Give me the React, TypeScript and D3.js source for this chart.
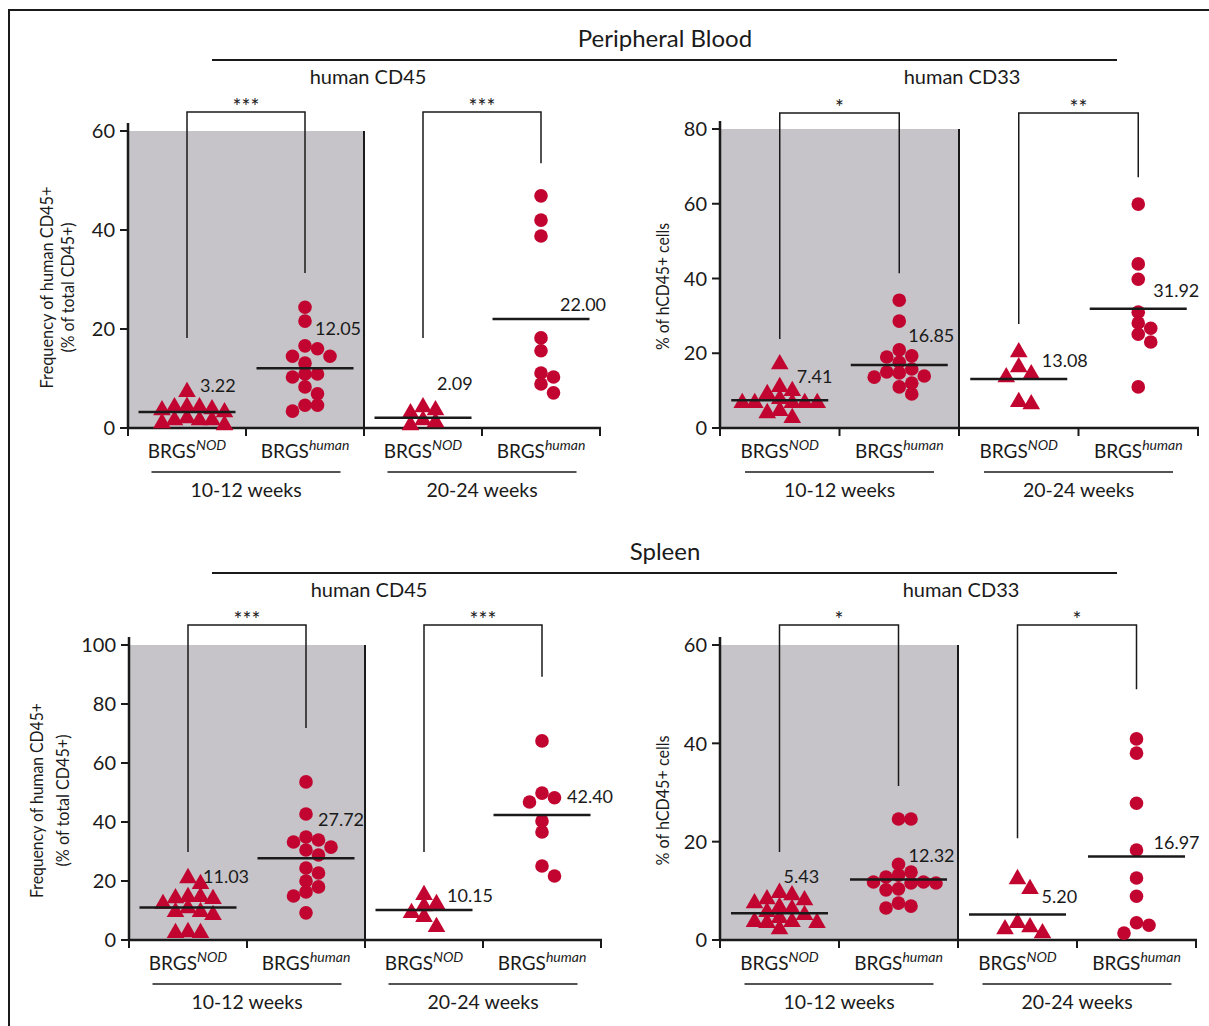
import React from "react";
import * as d3 from "d3";

// groups along each x axis: strain x age
const strains = ["NOD", "human"];
const ages = ["10-12 weeks", "20-24 weeks"];
const groupKeys = ["NOD 10-12", "human 10-12", "NOD 20-24", "human 20-24"];

// Peripheral blood, human CD45 (% of total CD45+)
const pbCD45Ticks = [0, 20, 40, 60];
const pbCD45 = [
  [7.3, 4.3, 4.2, 4.2, 3.8, 3.6, 3.2, 2.0, 1.6, 1.6, 1.6, 1.0, 0.6],
  [24.4, 21.6, 16.6, 16.0, 14.5, 14.5, 13.1, 10.9, 10.9, 10.3, 8.3, 6.9, 4.6, 4.6, 3.4],
  [4.2, 3.6, 3.0, 1.6, 1.2, 0.6],
  [46.9, 42.0, 38.8, 18.2, 15.6, 11.1, 10.3, 8.9, 7.1],
];
const pbCD45Means = [3.22, 12.05, 2.09, 22.0];
const pbCD45Stars = ["***", "***"];
const pbCD45Legs = [[18.2, 31.3], [18.2, 53.5]];

// Peripheral blood, human CD33 (% of hCD45+ cells)
const pbCD33Ticks = [0, 20, 40, 60, 80];
const pbCD33 = [
  [17.1, 11.0, 9.9, 9.1, 7.8, 6.7, 6.7, 6.7, 6.7, 6.7, 4.6, 4.0, 2.7],
  [34.2, 28.6, 20.9, 19.3, 19.0, 17.6, 15.8, 15.0, 14.7, 13.9, 13.6, 12.0, 11.0, 9.1],
  [20.3, 16.3, 14.4, 13.6, 7.0, 6.4],
  [59.9, 43.9, 39.8, 31.0, 28.1, 26.7, 25.1, 23.0, 11.0],
];
const pbCD33Means = [7.41, 16.85, 13.08, 31.92];
const pbCD33Stars = ["*", "**"];
const pbCD33Legs = [[23.8, 41.4], [27.8, 67.1]];

// Spleen, human CD45
const spCD45Ticks = [0, 20, 40, 60, 80, 100];
const spCD45 = [
  [21.0, 19.0, 14.6, 14.6, 14.2, 13.9, 12.2, 10.8, 9.5, 9.5, 8.5, 2.7, 2.4, 2.4],
  [53.6, 42.7, 34.9, 33.9, 33.2, 31.5, 30.5, 28.8, 24.4, 22.7, 20.0, 18.0, 16.3, 14.9, 9.2],
  [15.3, 12.2, 11.5, 9.2, 7.8, 4.4],
  [67.5, 49.8, 48.2, 46.8, 40.3, 36.6, 25.1, 21.7],
];
const spCD45Means = [11.03, 27.72, 10.15, 42.4];
const spCD45Stars = ["***", "***"];
const spCD45Legs = [[29.8, 71.9], [29.8, 89.2]];

// Spleen, human CD33
const spCD33Ticks = [0, 20, 40, 60];
const spCD33 = [
  [9.6, 9.1, 8.3, 8.1, 7.5, 6.7, 6.3, 5.7, 5.1, 4.5, 3.7, 3.7, 3.5, 3.5, 2.2],
  [24.6, 24.6, 15.4, 13.8, 13.2, 12.8, 11.8, 11.8, 11.6, 11.6, 10.4, 10.2, 7.5, 6.9, 6.5],
  [12.4, 10.4, 3.5, 2.6, 2.2, 1.4],
  [40.9, 38.0, 27.8, 18.3, 12.6, 8.9, 3.5, 3.0, 1.4],
];
const spCD33Means = [5.43, 12.32, 5.2, 16.97];
const spCD33Stars = ["*", "*"];
const spCD33Legs = [[17.9, 31.3], [20.7, 51.0]];

const RED = "#c10530";
const GRAY = "#c6c4c8";
const INK = "#1a1a1a";
const FONT = "Lato, 'Open Sans', sans-serif";

const panels = [
  {
    axisX: 128, y0: 428, yTop: 131, band: 118, ticks: pbCD45Ticks, data: pbCD45,
    means: pbCD45Means, stars: pbCD45Stars, legs: pbCD45Legs, bracketY: 112,
    title: ["Frequency of human CD45+", "(% of total CD45+)"], titleX: [47, 68], titleLen: [202, 130],
    labelOff: [[13, -20], [10, -33], [14, -28], [19, -8]],
  },
  {
    axisX: 720, y0: 428, yTop: 129, band: 119.5, ticks: pbCD33Ticks, data: pbCD33,
    means: pbCD33Means, stars: pbCD33Stars, legs: pbCD33Legs, bracketY: 113,
    title: ["% of hCD45+ cells"], titleX: [663], titleLen: [127],
    labelOff: [[17, -17], [9, -23], [23, -12], [15, -12]],
  },
  {
    axisX: 129, y0: 940, yTop: 645, band: 118, ticks: spCD45Ticks, data: spCD45,
    means: spCD45Means, stars: spCD45Stars, legs: spCD45Legs, bracketY: 625,
    title: ["Frequency of human CD45+", "(% of total CD45+)"], titleX: [37, 63], titleLen: [195, 132],
    labelOff: [[15, -24], [12, -32], [23, -8], [25, -12]],
  },
  {
    axisX: 720, y0: 940, yTop: 645, band: 119, ticks: spCD33Ticks, data: spCD33,
    means: spCD33Means, stars: spCD33Stars, legs: spCD33Legs, bracketY: 625,
    title: ["% of hCD45+ cells"], titleX: [663], titleLen: [130],
    labelOff: [[4, -30], [10, -17], [24, -11], [17, -8]],
  },
];

// grid beeswarm: each point takes the nearest free column to the group centre
function swarm(ys: number[], step: number, minD: number) {
  const placed: { x: number; y: number }[] = [];
  ys.forEach((y) => {
    for (let k = 0; k < 20; k++) {
      const cands = k === 0 ? [0] : [k * step, -k * step];
      const free = cands.find((c) =>
        placed.every((p) => Math.abs(p.x - c) > 0.1 || Math.abs(p.y - y) >= minD)
      );
      if (free !== undefined) {
        placed.push({ x: free, y });
        return;
      }
    }
  });
  return placed;
}

const triangle = d3.symbol().type(d3.symbolTriangle).size(135)();

function Panel({ cfg }: { cfg: any }) {
  const x = d3.scaleBand().domain(groupKeys).range([cfg.axisX, cfg.axisX + 4 * cfg.band]);
  const y = d3.scaleLinear().domain([0, d3.max(cfg.ticks as number[])!]).range([cfg.y0, cfg.yTop]);
  const cx = (i: number) => (x(groupKeys[i]) as number) + x.bandwidth() / 2;
  const right = cfg.axisX + 4 * cfg.band;
  const mid = cfg.axisX + 2 * cfg.band;
  const titleY = (cfg.y0 + cfg.yTop) / 2 + 8;

  return (
    <g>
      <rect x={cfg.axisX} y={y(d3.max(cfg.ticks as number[])!)} width={mid - cfg.axisX} height={cfg.y0 - cfg.yTop} fill={GRAY} />
      <line x1={mid} x2={mid} y1={cfg.yTop} y2={cfg.y0} stroke={INK} strokeWidth={2} />

      {/* y axis */}
      <line x1={cfg.axisX} x2={cfg.axisX} y1={cfg.yTop - 8} y2={cfg.y0 + 1} stroke={INK} strokeWidth={2.5} />
      {cfg.ticks.map((t: number) => (
        <g key={t}>
          <line x1={cfg.axisX - 8} x2={cfg.axisX} y1={y(t)} y2={y(t)} stroke={INK} strokeWidth={2} />
          <text x={cfg.axisX - 13} y={y(t)} dy="0.36em" textAnchor="end" fontSize={20} fill={INK}>{t}</text>
        </g>
      ))}
      {cfg.title.map((s: string, i: number) => (
        <text key={s} transform={`translate(${cfg.titleX[i]},${titleY}) rotate(-90)`} dy="0.35em"
          textAnchor="middle" fontSize={18} fill={INK} textLength={cfg.titleLen[i]} lengthAdjust="spacingAndGlyphs">{s}</text>
      ))}

      {/* x axis */}
      <line x1={cfg.axisX - 1} x2={right + 1} y1={cfg.y0} y2={cfg.y0} stroke={INK} strokeWidth={2.5} />
      {d3.range(5).map((i) => (
        <line key={i} x1={cfg.axisX + i * cfg.band} x2={cfg.axisX + i * cfg.band} y1={cfg.y0} y2={cfg.y0 + 8} stroke={INK} strokeWidth={2} />
      ))}
      {groupKeys.map((g, i) => (
        <text key={g} x={cx(i)} y={cfg.y0 + 30} textAnchor="middle" fontSize={19} fill={INK}>
          BRGS<tspan dy={-8} fontSize={14} fontStyle="italic">{strains[i % 2]}</tspan>
        </text>
      ))}
      {ages.map((a, j) => {
        const c = cfg.axisX + cfg.band * (2 * j + 1);
        return (
          <g key={a}>
            <line x1={c - 94.5} x2={c + 94.5} y1={cfg.y0 + 44} y2={cfg.y0 + 44} stroke={INK} strokeWidth={1.5} />
            <text x={c} y={cfg.y0 + 69} textAnchor="middle" fontSize={19.5} fill={INK}>{a}</text>
          </g>
        );
      })}

      {/* significance brackets */}
      {cfg.stars.map((s: string, j: number) => {
        const a = cx(2 * j), b = cx(2 * j + 1);
        return (
          <g key={j}>
            <path d={`M${a},${y(cfg.legs[j][0])}V${cfg.bracketY}H${b}V${y(cfg.legs[j][1])}`} fill="none" stroke={INK} strokeWidth={1.5} />
            <text x={(a + b) / 2} y={cfg.bracketY + 2} textAnchor="middle" fontSize={21} fill={INK}>{s}</text>
          </g>
        );
      })}

      {/* points */}
      {cfg.data.map((vals: number[], i: number) => {
        const pts = swarm(vals.map((v) => y(v)), 12.5, 10.5);
        return pts.map((p, k) =>
          i % 2 === 0 ? (
            <path key={`${i}-${k}`} d={triangle} transform={`translate(${cx(i) + p.x},${p.y})`} fill={RED} />
          ) : (
            <circle key={`${i}-${k}`} cx={cx(i) + p.x} cy={p.y} r={6.8} fill={RED} />
          )
        );
      })}

      {/* means */}
      {cfg.means.map((m: number, i: number) => (
        <g key={i}>
          <line x1={cx(i) - 48.5} x2={cx(i) + 48.5} y1={y(m)} y2={y(m)} stroke={INK} strokeWidth={2.5} />
          <text x={cx(i) + cfg.labelOff[i][0]} y={y(m) + cfg.labelOff[i][1]} fontSize={18} fill={INK}>{m.toFixed(2)}</text>
        </g>
      ))}
    </g>
  );
}

export default function App() {
  return (
    <svg width={1209} height={1026} style={{ position: "absolute", left: 0, top: 0, background: "#fff" }} fontFamily={FONT}>
      <rect width={1209} height={1026} fill="#fff" />
      <path d="M9,1026V10H1209" fill="none" stroke={INK} strokeWidth={2} />

      <text x={665} y={47} textAnchor="middle" fontSize={24} fill={INK}>Peripheral Blood</text>
      <line x1={212} x2={1117} y1={60} y2={60} stroke={INK} strokeWidth={2} />
      <text x={368} y={84} textAnchor="middle" fontSize={20} fill={INK}>human CD45</text>
      <text x={962} y={84} textAnchor="middle" fontSize={20} fill={INK}>human CD33</text>

      <text x={665} y={560} textAnchor="middle" fontSize={24} fill={INK}>Spleen</text>
      <line x1={212} x2={1117} y1={573} y2={573} stroke={INK} strokeWidth={2} />
      <text x={369} y={597} textAnchor="middle" fontSize={20} fill={INK}>human CD45</text>
      <text x={961} y={597} textAnchor="middle" fontSize={20} fill={INK}>human CD33</text>

      {panels.map((p, i) => <Panel key={i} cfg={p} />)}
    </svg>
  );
}
